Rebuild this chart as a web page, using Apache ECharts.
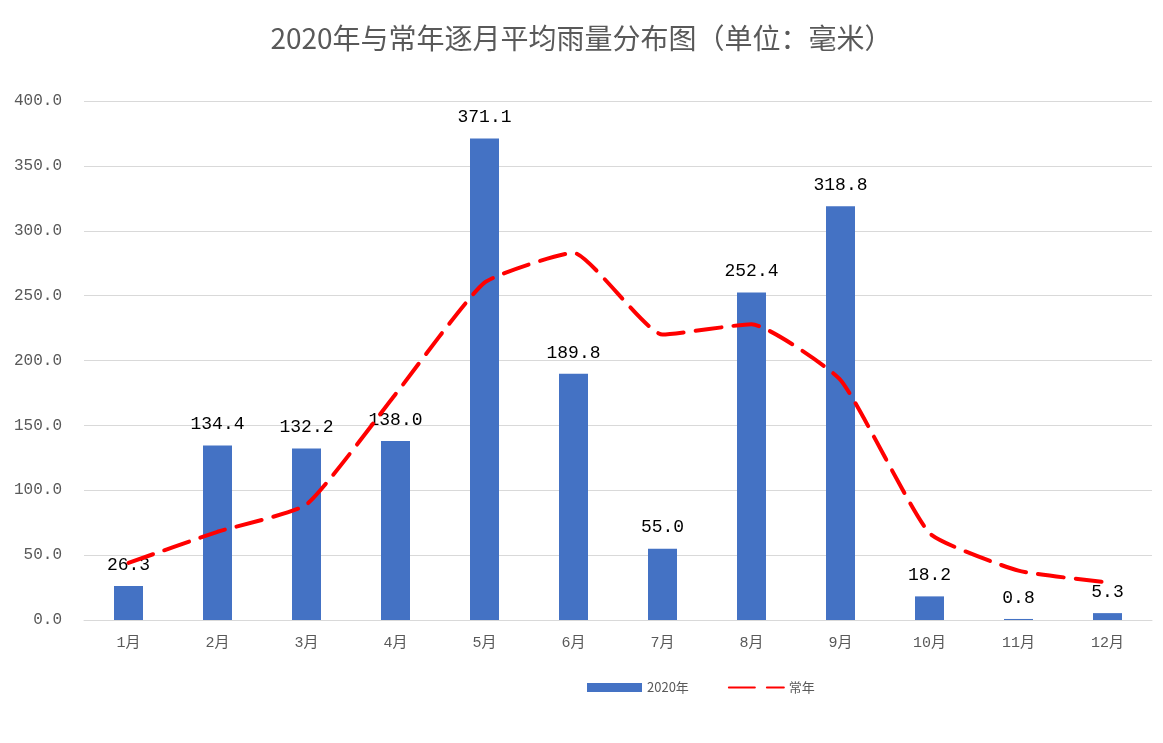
<!DOCTYPE html>
<html>
<head>
<meta charset="utf-8">
<script src="https://cdn.jsdelivr.net/npm/echarts@6/dist/echarts.min.js"></script>
<style>
  html, body { margin: 0; padding: 0; background: #fff; }
  #echart { width: 1163px; height: 743px; }
</style>
</head>
<body>
<div id="echart"></div>
<script>
// 月份
var months = ['1月', '2月', '3月', '4月', '5月', '6月', '7月', '8月', '9月', '10月', '11月', '12月'];
// 2020年逐月雨量
var rain2020 = [26.3, 134.4, 132.2, 138.0, 371.1, 189.8, 55.0, 252.4, 318.8, 18.2, 0.8, 5.3];
// 常年逐月雨量
var rainNormal = [44, 68, 89, 174, 260, 283, 220, 228, 185, 67, 38, 29];
var yTicks = { min: 0, max: 400, interval: 50 };

var fontCn = '"Noto Sans CJK SC", "Noto Sans", sans-serif';
// 数字用等宽字体，近似原图宋体的字距
var fontNum = '"Liberation Mono", "Noto Sans CJK SC", monospace';

var myChart = echarts.init(document.getElementById('echart'));

var option = {
    backgroundColor: '#fff',
    animation: false,
    title: {
        text: '2020年与常年逐月平均雨量分布图（单位：毫米）',
        left: 'center',
        top: 19,
        textStyle: {
            color: '#595959',
            fontSize: 28,
            fontWeight: 'normal',
            fontFamily: fontCn
        }
    },
    legend: {
        top: 676,
        left: 582,
        itemGap: 39,
        itemWidth: 55,
        itemHeight: 9,
        textStyle: {
            color: '#595959',
            fontSize: 13,
            fontFamily: fontCn
        },
        data: [
            { name: '2020年', icon: 'rect' },
            { name: '常年', itemStyle: { opacity: 0 } }
        ]
    },
    grid: {
        left: 84,
        right: 11,
        top: 101,
        bottom: 123
    },
    xAxis: {
        type: 'category',
        data: months,
        axisLine: { lineStyle: { color: '#d9d9d9', width: 1 } },
        axisTick: { show: false },
        axisLabel: {
            color: '#595959',
            fontSize: 15,
            margin: 16,
            fontFamily: fontNum
        }
    },
    yAxis: {
        type: 'value',
        min: yTicks.min,
        max: yTicks.max,
        interval: yTicks.interval,
        axisLine: { show: false },
        axisTick: { show: false },
        splitLine: { lineStyle: { color: '#d9d9d9', width: 1 } },
        axisLabel: {
            color: '#595959',
            fontSize: 16,
            margin: 22,
            fontFamily: fontNum,
            formatter: function (v) {
                return v.toFixed(1);
            }
        }
    },
    series: [
        {
            name: '2020年',
            type: 'bar',
            data: rain2020,
            barWidth: 29,
            itemStyle: { color: '#4472c4' },
            label: {
                show: true,
                position: 'top',
                distance: 12,
                color: '#000',
                fontSize: 18,
                fontFamily: fontNum,
                formatter: function (p) {
                    return p.value.toFixed(1);
                }
            }
        },
        {
            name: '常年',
            type: 'line',
            data: rainNormal,
            smooth: 0.15,
            symbol: 'none',
            lineStyle: {
                color: '#ff0000',
                width: 4,
                type: [26, 12],
                cap: 'round'
            },
            itemStyle: { color: '#ff0000' },
            z: 3
        }
    ]
};

myChart.setOption(option);
</script>
</body>
</html>
